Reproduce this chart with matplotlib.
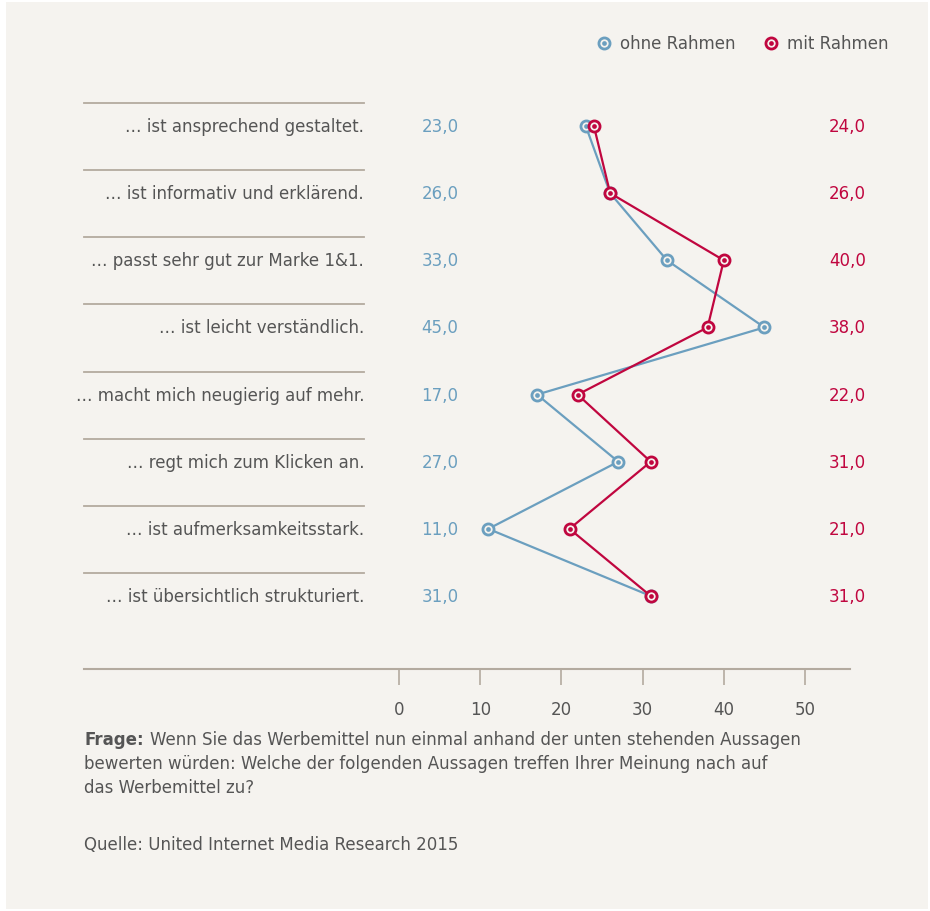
import matplotlib
matplotlib.use("Agg")
import matplotlib.pyplot as plt
import matplotlib.transforms as mtransforms
from matplotlib.patches import Rectangle

categories = [
    "… ist ansprechend gestaltet.",
    "… ist informativ und erklärend.",
    "… passt sehr gut zur Marke 1&1.",
    "… ist leicht verständlich.",
    "… macht mich neugierig auf mehr.",
    "… regt mich zum Klicken an.",
    "… ist aufmerksamkeitsstark.",
    "… ist übersichtlich strukturiert.",
]
ohne_rahmen = [23.0, 26.0, 33.0, 45.0, 17.0, 27.0, 11.0, 31.0]
mit_rahmen = [24.0, 26.0, 40.0, 38.0, 22.0, 31.0, 21.0, 31.0]
series_names = ["ohne Rahmen", "mit Rahmen"]
x_ticks = [0, 10, 20, 30, 40, 50]

BLUE = "#6b9fbf"
RED = "#c0063f"
BG = "#f5f3ef"
LINE = "#b3aa9f"
TXT = "#555555"
FONT = "DejaVu Sans"
FS = 12

W, H = 930, 912
fig = plt.figure(figsize=(W / 100, H / 100), dpi=100, facecolor="white")
fig.patches.append(Rectangle((6 / W, 1 - 910 / H), (928 - 6) / W, (910 - 3) / H,
                             transform=fig.transFigure, facecolor=BG, edgecolor="none", zorder=-10))

def fx(px):
    return px / W

def fy(py):
    return 1 - py / H

top_px, bot_px = 30, 670
left_px, right_px = 84, 850
ax = fig.add_axes([fx(left_px), fy(bot_px), (right_px - left_px) / W, (bot_px - top_px) / H])
ax.set_facecolor("none")

ppu = (805 - 399) / 50.0
ax.set_xlim((left_px - 399) / ppu, (right_px - 399) / ppu)
row_sp = (597 - 127) / 7.0
ax.set_ylim((bot_px - 127) / row_sp, (top_px - 127) / row_sp)

for s in ["top", "right", "left"]:
    ax.spines[s].set_visible(False)
ax.spines["bottom"].set_color(LINE)
ax.spines["bottom"].set_linewidth(1.5)
ax.set_yticks([])
ax.set_xticks(x_ticks)
ax.set_xticklabels([str(t) for t in x_ticks], fontsize=FS, color=TXT, fontfamily=FONT)
ax.tick_params(axis="x", direction="out", length=11.5, width=1.2, color=LINE, pad=11)

rows = list(range(len(categories)))
MS_OUT, MEW, MS_IN = 8, 2.0, 3.4

def draw_series(vals, color, z):
    ax.plot(vals, rows, color=color, lw=1.6, zorder=z, solid_joinstyle="miter")
    ax.plot(vals, rows, ls="none", marker="o", ms=MS_OUT, mfc=BG, mec=color, mew=MEW, zorder=z + 0.1)
    ax.plot(vals, rows, ls="none", marker="o", ms=MS_IN, mfc=color, mec=color, mew=0, zorder=z + 0.2)

draw_series(ohne_rahmen, BLUE, 3)
draw_series(mit_rahmen, RED, 4)

tr = mtransforms.blended_transform_factory(fig.transFigure, ax.transData)
sep_frac = (364 - left_px) / (right_px - left_px)
for i, (cat, o, m) in enumerate(zip(categories, ohne_rahmen, mit_rahmen)):
    ax.text(fx(364), i, cat, transform=tr, ha="right", va="center", fontsize=FS,
            color=TXT, fontfamily=FONT)
    ax.text(fx(440), i, f"{o:.1f}".replace(".", ","), transform=tr, ha="center", va="center",
            fontsize=FS, color=BLUE, fontfamily=FONT)
    ax.text(fx(866), i, f"{m:.1f}".replace(".", ","), transform=tr, ha="right", va="center",
            fontsize=FS, color=RED, fontfamily=FONT)
    ysep = i - (127 - 104) / row_sp
    ax.axhline(ysep, xmin=0, xmax=sep_frac, color=LINE, lw=1.3, clip_on=False)

# legend
for mx, col, tx, name in [(604, BLUE, 620, series_names[0]), (771, RED, 787, series_names[1])]:
    fig.lines.append(plt.Line2D([fx(mx)], [fy(44)], transform=fig.transFigure, ls="none",
                                marker="o", ms=MS_OUT, mfc=BG, mec=col, mew=MEW))
    fig.lines.append(plt.Line2D([fx(mx)], [fy(44)], transform=fig.transFigure, ls="none",
                                marker="o", ms=MS_IN, mfc=col, mew=0))
    fig.text(fx(tx), fy(44), name, ha="left", va="center", fontsize=FS, color=TXT, fontfamily=FONT)

# footer
t_bold = fig.text(fx(84), fy(740), "Frage:", ha="left", va="center", fontsize=FS, color=TXT,
                  fontfamily=FONT, fontweight="bold")
renderer = fig.canvas.get_renderer()
bb = t_bold.get_window_extent(renderer=renderer)
fig.text(fx(bb.x1 + 6), fy(740), "Wenn Sie das Werbemittel nun einmal anhand der unten stehenden Aussagen",
         ha="left", va="center", fontsize=FS, color=TXT, fontfamily=FONT)
fig.text(fx(84), fy(764), "bewerten würden: Welche der folgenden Aussagen treffen Ihrer Meinung nach auf",
         ha="left", va="center", fontsize=FS, color=TXT, fontfamily=FONT)
fig.text(fx(84), fy(788), "das Werbemittel zu?", ha="left", va="center", fontsize=FS, color=TXT,
         fontfamily=FONT)
fig.text(fx(84), fy(845), "Quelle: United Internet Media Research 2015", ha="left", va="center",
         fontsize=FS, color=TXT, fontfamily=FONT)

fig.savefig("out.png", dpi=100, facecolor="white")
